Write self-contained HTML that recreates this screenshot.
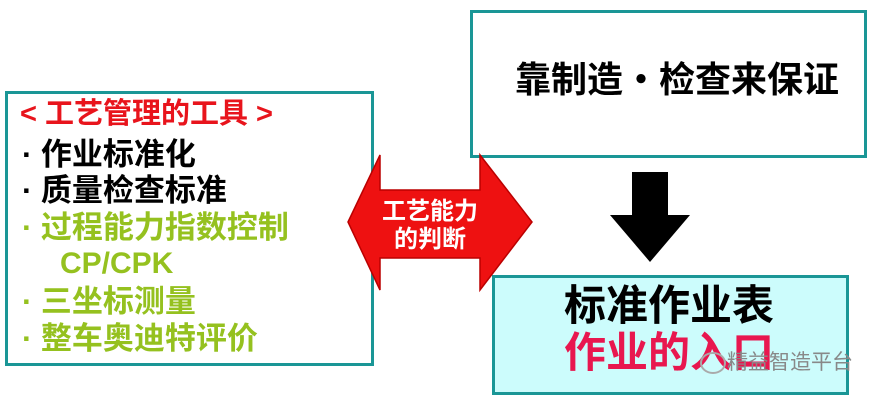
<!DOCTYPE html>
<html><head><meta charset="utf-8"><style>
body{margin:0;width:878px;height:403px;background:#fff;position:relative;overflow:hidden;font-family:"Liberation Sans","Noto Sans CJK SC",sans-serif;font-weight:bold}
.b{position:absolute;box-sizing:border-box;border:3px solid #1a9696}
.t{position:absolute;white-space:nowrap;line-height:1}
</style></head><body>
<div class="b" style="left:5px;top:91px;width:369px;height:275px"></div>
<div class="t" style="left:20px;top:100px;font-size:29px;color:#e8141c">&lt; 工艺管理的工具 &gt;</div>
<div class="t" style="left:22px;top:139px;font-size:31px;color:#000">· 作业标准化</div>
<div class="t" style="left:22px;top:175px;font-size:31px;color:#000">· 质量检查标准</div>
<div class="t" style="left:22px;top:212px;font-size:31px;color:#95c11f">· 过程能力指数控制</div>
<div class="t" style="left:60px;top:249px;font-size:30px;color:#95c11f">CP/CPK</div>
<div class="t" style="left:22px;top:286px;font-size:31px;color:#95c11f">· 三坐标测量</div>
<div class="t" style="left:22px;top:323px;font-size:31px;color:#95c11f">· 整车奥迪特评价</div>

<div class="b" style="left:470px;top:10px;width:397px;height:148px"></div>
<div class="t" style="left:515px;top:62px;font-size:36px;color:#000">靠制造・检查来保证</div>

<div class="b" style="left:492px;top:275px;width:357px;height:120px;background:#ccfcfc"></div>
<div class="t" style="left:564px;top:285px;font-size:42px;color:#000">标准作业表</div>
<div class="t" style="left:564px;top:332px;font-size:42px;color:#e8174f">作业的入口</div>
<div class="t" style="left:727px;top:352px;font-size:21px;color:#888;font-weight:normal">精益智造平台</div>
<div style="position:absolute;left:700px;top:352px;width:22px;height:18px;border:2px solid #aaa;border-radius:50%"></div>

<svg style="position:absolute;left:0;top:0" width="878" height="403">
<polygon points="348,222 380,155 380,190 480,190 480,155 532,222 480,290 480,258 380,258 380,290" fill="#ee1111" stroke="#b00" stroke-width="1.5"/>
<text x="430" y="219" font-size="24" fill="#fff" text-anchor="middle" font-weight="bold" font-family="Liberation Sans,Noto Sans CJK SC,sans-serif">工艺能力</text>
<text x="430" y="247" font-size="24" fill="#fff" text-anchor="middle" font-weight="bold" font-family="Liberation Sans,Noto Sans CJK SC,sans-serif">的判断</text>
<polygon points="632,172 668,172 668,215 690,215 650,262 610,215 632,215" fill="#000"/>
</svg>
</body></html>
